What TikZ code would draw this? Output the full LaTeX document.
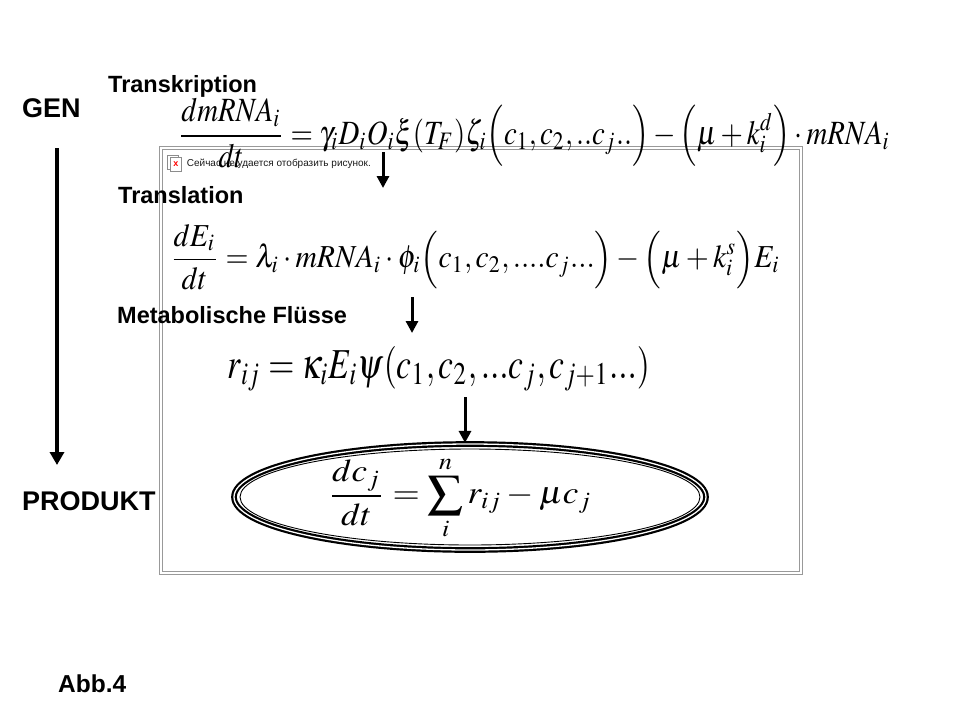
\documentclass[tikz,border=0pt]{standalone}
\usepackage{amsmath}
\usepackage{mathptmx}
\usepackage[no-math]{fontspec}
\usepackage{graphicx}
\usepackage{tikz}
\usetikzlibrary{shapes.geometric}
\usetikzlibrary{arrows.meta}
\usetikzlibrary{positioning}
\newfontfamily\arialfont{Liberation Sans}

\tikzset{
  lbl/.style={inner sep=0, font=\arialfont\bfseries\fontsize{23.5}{26}\selectfont},
  biglbl/.style={inner sep=0, font=\arialfont\bfseries\fontsize{27}{30}\selectfont},
  eqn/.style={inner sep=0},
  arr/.style={line width=3pt, -{Triangle[length=12pt,width=12pt]}},
  bigarr/.style={line width=4.5pt, -{Triangle[length=13pt,width=14pt]}},
  frm/.style={draw=black!40, line width=0.9pt, double, double distance=1.6pt},
}

\begin{document}
\begin{tikzpicture}[x=1pt, y=-1pt]
  \useasboundingbox (0,0) rectangle (960,720);

  % frame of the missing picture
  \draw[frm] (161,148) rectangle (801,573); %
  \node[draw=black!45, fill=white, minimum width=11pt, minimum height=14pt, inner sep=0] (ico-b) at (173,162) {}; %
  \node[draw=black!45, fill=white, minimum width=11pt, minimum height=14pt, inner sep=0,
        text=red, font=\arialfont\bfseries\fontsize{9}{9}\selectfont] (ico) at (176,164) {x}; %
  \node[right=5pt of ico, inner sep=0, text=black!90,
        font=\arialfont\fontsize{10}{11}\selectfont] (msg) {Сейчас не удается отобразить рисунок.}; %

  % labels
  \node[biglbl, anchor=base west] (gen)  at (22,117) {GEN}; %
  \node[biglbl, anchor=base west] (prod) at (22,510) {PRODUKT}; %
  \node[lbl, anchor=base west] (tr-k) at (108,92)  {Transkription}; %
  \node[lbl, anchor=base west] (tr-l) at (118,203) {Translation}; %
  \node[lbl, anchor=base west] (met)  at (117,323) {Metabolische Flüsse}; %
  \node[lbl, anchor=base west, font=\arialfont\bfseries\fontsize{24.5}{26}\selectfont] (abb) at (58,692) {Abb.4}; %

  % equations
  \node[eqn] (eq-m) at (534,133) {\resizebox*{712pt}{70pt}{$\displaystyle
    \frac{dmRNA_i}{dt} = \gamma_i D_i O_i \xi(T_F)\zeta_i\Bigl(c_1, c_2, ..c_j..\Bigr)
    - \Bigl(\mu + k_i^d\Bigr)\cdot mRNA_i$}}; %
  \node[eqn] (eq-e) at (475,257) {\resizebox*{610pt}{66pt}{$\displaystyle
    \frac{dE_i}{dt} = \lambda_i \cdot mRNA_i \cdot \phi_i\Bigl(c_1, c_2, ....c_j...\Bigr)
    - \Bigl(\mu + k_i^s\Bigr)E_i$}}; %
  \node[eqn] (eq-r) at (439,369) {\resizebox*{422pt}{45pt}{$\displaystyle
    r_{ij} = \kappa_i E_i \psi(c_1, c_2, ...c_j, c_{j+1}...)$}}; %

  % product node
  \node[ellipse, draw, line width=2.2pt, double, double distance=1.3pt,
        minimum width=472pt, minimum height=106pt] (ell) at (470,497) {}; %
  \node[ellipse, draw, line width=0.9pt,
        minimum width=460pt, minimum height=96pt] (ell-in) at (470,497) {}; %
  \node[eqn] (eq-c) at (460,498) {\resizebox*{264pt}{83pt}{$\displaystyle
    \frac{dc_j}{dt} = \sum_i^n r_{ij} - \mu c_j$}}; %

  % arrows
  \coordinate (a1-s) at (383,152); %
  \coordinate (a1-e) at (383,188); %
  \coordinate (a2-s) at (412,297); %
  \coordinate (a2-e) at (412,333); %
  \coordinate (a3-s) at (465,397); %
  \coordinate (g-s)  at (57,148); %
  \coordinate (g-e)  at (57,465); %
  \draw[arr] (a1-s) -- (a1-e); %
  \draw[arr] (a2-s) -- (a2-e); %
  \draw[arr] (a3-s) -- (a3-s |- ell.north); %
  \draw[bigarr] (g-s) -- (g-e); %

\end{tikzpicture}
\end{document}
